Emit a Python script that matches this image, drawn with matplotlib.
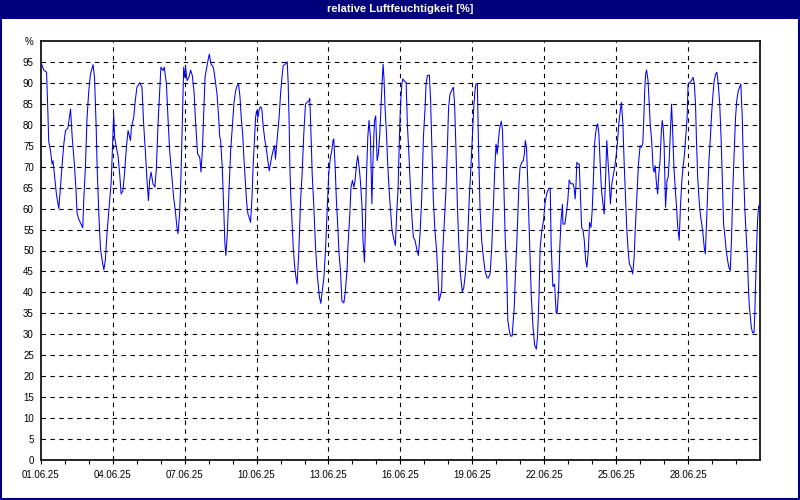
import matplotlib
matplotlib.use("Agg")
import matplotlib.pyplot as plt
from matplotlib.patches import Rectangle

# days since 01.06.25 00:00 and relative humidity [%]
days = [0.0, 0.03, 0.125, 0.24, 0.29, 0.33, 0.40, 0.47, 0.51, 0.57, 0.65, 0.75, 0.82, 0.89, 0.96,
        1.03, 1.13, 1.19, 1.24, 1.31, 1.40, 1.47, 1.51, 1.58, 1.68, 1.75, 1.79, 1.86, 1.93, 2.0,
        2.07, 2.18, 2.24, 2.31, 2.35, 2.42, 2.49, 2.56, 2.63, 2.69, 2.76, 2.86, 2.94, 3.0, 3.04,
        3.08, 3.15, 3.22, 3.29, 3.35, 3.43, 3.5, 3.57, 3.64, 3.74, 3.78, 3.875, 3.94, 4.01, 4.125,
        4.22, 4.29, 4.36, 4.43, 4.49, 4.54, 4.6, 4.68, 4.76, 4.82, 4.89, 4.96, 5.01, 5.1, 5.15,
        5.24, 5.31, 5.375, 5.47, 5.54, 5.61, 5.68, 5.72, 5.79, 5.85, 5.9, 5.96, 6.0, 6.04, 6.1,
        6.18, 6.25, 6.32, 6.39, 6.46, 6.54, 6.6, 6.64, 6.68, 6.74, 6.79, 6.85, 6.9, 6.97, 7.03,
        7.1, 7.17, 7.21, 7.28, 7.35, 7.42, 7.46, 7.5, 7.57, 7.64, 7.68, 7.72, 7.78, 7.85, 7.92,
        7.99, 8.06, 8.125, 8.19, 8.25, 8.31, 8.36, 8.43, 8.47, 8.53, 8.58, 8.64, 8.69, 8.75, 8.81,
        8.86, 8.92, 8.96, 9.0, 9.06, 9.11, 9.17, 9.22, 9.28, 9.35, 9.42, 9.47, 9.53, 9.58, 9.64,
        9.69, 9.75, 9.79, 9.83, 9.89, 9.94, 10.0, 10.06, 10.11, 10.19, 10.28, 10.32, 10.36, 10.39, 10.43,
        10.49, 10.53, 10.58, 10.64, 10.69, 10.76, 10.83, 10.9, 10.97, 11.04, 11.11, 11.18, 11.22, 11.28, 11.32,
        11.39, 11.46, 11.53, 11.62, 11.68, 11.81, 11.875, 11.94, 12.01, 12.08, 12.14, 12.19, 12.22, 12.28, 12.33,
        12.39, 12.44, 12.5, 12.56, 12.64, 12.7, 12.78, 12.81, 12.89, 12.94, 13.0, 13.06, 13.11, 13.17, 13.22,
        13.28, 13.33, 13.4, 13.44, 13.5, 13.54, 13.58, 13.64, 13.69, 13.75, 13.81, 13.86, 13.92, 13.97, 14.03,
        14.08, 14.14, 14.19, 14.24, 14.28, 14.32, 14.36, 14.42, 14.47, 14.54, 14.6, 14.65, 14.72, 14.79, 14.85,
        14.9, 14.96, 15.0, 15.06, 15.1, 15.15, 15.24, 15.29, 15.36, 15.43, 15.49, 15.54, 15.61, 15.68, 15.75,
        15.82, 15.89, 15.96, 16.03, 16.07, 16.125, 16.21, 16.26, 16.31, 16.375, 16.44, 16.51, 16.56, 16.61, 16.66,
        16.72, 16.77, 16.9, 16.96, 17.01, 17.07, 17.15, 17.21, 17.26, 17.32, 17.375, 17.43, 17.49, 17.58, 17.64,
        17.71, 17.79, 17.875, 17.94, 18.0, 18.06, 18.11, 18.15, 18.21, 18.25, 18.32, 18.39, 18.46, 18.53, 18.6,
        18.66, 18.74, 18.81, 18.875, 18.94, 18.99, 19.04, 19.1, 19.15, 19.21, 19.26, 19.32, 19.375, 19.43, 19.48,
        19.55, 19.6, 19.66, 19.75, 19.8, 19.86, 19.94, 19.99, 20.06, 20.125, 20.17, 20.21, 20.26, 20.31, 20.36,
        20.4, 20.43, 20.46, 20.53, 20.6, 20.67, 20.72, 20.78, 20.83, 20.9, 20.97, 21.03, 21.1, 21.18, 21.25,
        21.29, 21.36, 21.43, 21.5, 21.54, 21.6, 21.65, 21.7, 21.76, 21.78, 21.86, 21.9, 21.98, 22.04, 22.11,
        22.21, 22.26, 22.29, 22.32, 22.36, 22.42, 22.46, 22.5, 22.56, 22.62, 22.67, 22.73, 22.78, 22.84, 22.89,
        22.95, 23.0, 23.06, 23.1, 23.14, 23.18, 23.23, 23.28, 23.34, 23.39, 23.45, 23.5, 23.56, 23.61, 23.65,
        23.71, 23.76, 23.82, 23.89, 23.94, 24.0, 24.06, 24.11, 24.17, 24.22, 24.28, 24.33, 24.39, 24.44, 24.5,
        24.55, 24.62, 24.69, 24.75, 24.8, 24.86, 24.93, 25.0, 25.05, 25.11, 25.15, 25.19, 25.23, 25.27, 25.33,
        25.37, 25.42, 25.48, 25.54, 25.58, 25.63, 25.67, 25.73, 25.77, 25.83, 25.88, 25.92, 25.96, 26.0, 26.06,
        26.12, 26.17, 26.21, 26.27, 26.31, 26.35, 26.41, 26.46, 26.52, 26.57, 26.63, 26.68, 26.74, 26.79, 26.85,
        26.9, 26.96, 27.0, 27.07, 27.14, 27.21, 27.26, 27.31, 27.35, 27.4, 27.46, 27.51, 27.57, 27.62, 27.68,
        27.72, 27.76, 27.82, 27.87, 27.93, 27.98, 28.04, 28.09, 28.15, 28.2, 28.26, 28.32, 28.38, 28.43, 28.48,
        28.54, 28.59, 28.65, 28.7, 28.76, 28.81, 28.87, 28.92, 28.98, 29.03, 29.09, 29.15, 29.2, 29.26, 29.31,
        29.37, 29.42, 29.48, 29.51, 29.55, 29.6, 29.64, 29.69, 29.75, 29.78, 29.82, 29.86, 29.9, 29.94, 29.99]

humidity = [94.5, 94.5, 93, 92.5, 84, 76, 74, 70.6, 71.4, 68, 63.5, 60, 65, 70.6, 75.4,
            78.6, 79.2, 81.7, 83.7, 77, 70.6, 64.3, 59, 57.5, 56.3, 55.4, 61.9, 69.8, 81.7, 88,
            92, 94.3, 91.3, 79.4, 69.8, 58.7, 50.4, 47.6, 45.4, 47.6, 54, 61.1, 66.7, 76.2, 82.5,
            77, 74.6, 72.6, 68.3, 63.5, 64.3, 69, 74.6, 78.6, 76.2, 79.4, 81.7, 85.7, 88.9, 90,
            88.9, 80.2, 73.8, 66.7, 61.9, 66.7, 68.7, 65.9, 65.1, 69.5, 80.2, 88, 93.7, 92.9, 93.7,
            89.7, 81, 73.8, 67.5, 62.7, 59.5, 55.5, 54, 58.7, 68.3, 80.2, 93.7, 91.3, 93.7, 90.5,
            91.3, 93, 91.7, 88, 80.2, 73, 72.6, 71.8, 68.7, 73.8, 81.7, 91.3, 92.9, 95.2, 96.8,
            94.4, 94, 93.3, 90.5, 87.3, 81.7, 77.4, 76.2, 69.8, 57.9, 51.6, 48.8, 54, 64.3, 73.8,
            79.4, 85.3, 88, 89.3, 89.7, 86.5, 81.7, 77, 72.2, 66.7, 61.9, 58.7, 57.9, 56.7, 62.7,
            70.6, 77, 81.7, 83.3, 81.7, 83.7, 84.3, 83.7, 79.4, 76.2, 73.8, 71.4, 69, 70.6, 72.6,
            73.8, 75, 71.8, 74.6, 78.6, 81.7, 87.3, 91.3, 94, 94.4, 95, 89.7, 80.2, 69.8, 62.7,
            55.5, 50.8, 46.8, 43.7, 42, 49.3, 61.1, 68.3, 77.8, 84.9, 85.3, 85.7, 86.3, 76.2, 68.3,
            60.3, 50.8, 44.4, 39, 37.4, 43.7, 50, 58.7, 68.3, 72.2, 73.8, 76.2, 76.6, 69.8, 61.9,
            55.5, 49.3, 45.2, 38, 37.5, 40, 46, 50.8, 58.7, 65.1, 66.7, 65.1, 66.7, 70.6, 72.6,
            69.8, 66.7, 60.3, 52.4, 47.2, 55.5, 66.7, 77, 81, 77, 61.1, 72.2, 81, 82.1, 71.4,
            73, 77.8, 84.1, 90.5, 94.4, 90.5, 84.1, 77.8, 70.6, 63.5, 58.7, 54.8, 52.8, 51.2, 59.5,
            64.3, 77, 84.1, 89.7, 90.9, 90.5, 90, 80.2, 72.2, 63.5, 57.1, 53.2, 52.4, 50.4, 48.8,
            54, 62.7, 77, 84.1, 89.7, 91.7, 91.8, 85.7, 75.4, 61.9, 54.8, 50, 44.4, 38, 39,
            40.6, 50.1, 64.3, 74.6, 84.1, 87.3, 88.3, 88.9, 84.9, 73.8, 61.1, 52.4, 45.2, 40.2, 41,
            44.4, 50.8, 62.7, 69.8, 77, 84.1, 88, 89.7, 89.8, 77, 60.3, 52.4, 48.4, 45.2, 43.7,
            43.4, 44.4, 50.8, 60.3, 69.8, 75.4, 73, 77, 79.4, 80.8, 78.6, 64.3, 52.4, 45.4, 33.4,
            30.6, 29.6, 29.6, 36.6, 44.6, 52.5, 65.2, 69.8, 71, 71.4, 73, 76.2, 74.6, 66.7, 57.1,
            49.3, 44.4, 39, 31.8, 27.4, 26.5, 29.5, 39, 50.8, 54.8, 57.1, 61.1, 63.5, 64.7, 64.9,
            50.9, 41.4, 42, 35, 35.4, 40.6, 50.9, 57.2, 61, 56.3, 56.3, 57.9, 61.7, 66.8, 65.9,
            65.9, 64.3, 62.3, 65.1, 71, 70.6, 70.6, 64.3, 55.5, 54.8, 52.4, 47.6, 46, 50, 56.7,
            55.5, 59.5, 68.3, 75.4, 77.8, 79.4, 80.2, 77.8, 69.8, 64.3, 61.1, 58.7, 67.5, 76.2, 72.2,
            66.7, 61.1, 65.9, 68.3, 69.8, 72.6, 76.2, 80.2, 83.3, 85.3, 80.2, 71.4, 62.7, 55.5, 50,
            46.8, 46, 44.4, 48.4, 55.5, 62.7, 70.6, 75, 74.6, 75.4, 81, 88, 92.1, 93, 90.5,
            85.7, 80.2, 76.2, 69.8, 68.7, 70.2, 66.7, 63.5, 67.5, 71.4, 77.8, 81, 79.4, 75.4, 60.3,
            66.7, 67.5, 71.4, 79.4, 84.9, 79.4, 69.8, 65.1, 60.3, 55.5, 52.4, 60.3, 66.7, 69.8, 73,
            77, 81.7, 89.7, 90, 90.5, 91.3, 89.7, 84.9, 76.2, 67.5, 61.9, 58.7, 56.3, 54, 50.4,
            49.2, 55.5, 64.3, 71.4, 77, 82.5, 87.3, 90.5, 92.1, 92.5, 89.7, 84.9, 76.2, 66.7, 56.3,
            53.2, 50, 47.6, 46, 45.2, 52.4, 65.1, 73, 81.7, 85.7, 88, 88.9, 89.7, 81.7, 69.8,
            59.5, 54, 47.6, 42.2, 37.1, 34, 31.6, 30.4, 30.4, 34.3, 43, 51, 57.3, 60.5, 61]

tick_days = list(range(0, 30, 3))
tick_labels = ["01.06.25", "04.06.25", "07.06.25", "10.06.25", "13.06.25",
               "16.06.25", "19.06.25", "22.06.25", "25.06.25", "28.06.25"]
y_ticks = list(range(0, 105, 5))
y_labels = [str(v) for v in range(0, 100, 5)] + ["%"]

plt.rcParams['font.family'] = ['Liberation Sans', 'DejaVu Sans']

fig = plt.figure(figsize=(8, 5), dpi=100)
fig.patch.set_facecolor('white')

# window frame and title bar
navy = '#00007b'
fig.patches.append(Rectangle((0, 0.962), 1, 0.038, transform=fig.transFigure,
                             facecolor=navy, edgecolor='none', zorder=0))
fig.patches.append(Rectangle((0.0015, 0.002), 0.997, 0.99, transform=fig.transFigure,
                             facecolor='none', edgecolor=navy, linewidth=1.5, zorder=0))
fig.text(0.5, 0.981, "relative Luftfeuchtigkeit [%]", color='white', fontsize=8,
         fontweight='bold', ha='center', va='center')

ax = fig.add_axes([0.051, 0.0795, 0.899, 0.839])
ax.plot(days, humidity, color='#0000ff', linewidth=0.75, zorder=3)

ax.set_xlim(0, 30)
ax.set_ylim(0, 100)
ax.set_xticks(tick_days)
ax.set_xticklabels(tick_labels)
ax.set_xticks(range(0, 30), minor=True)
ax.set_yticks(y_ticks)
ax.set_yticklabels(y_labels)

ax.tick_params(axis='x', which='both', length=3, width=0.8, labelsize=7, pad=4)
ax.tick_params(axis='y', length=0, labelsize=7, pad=5)

for d in tick_days[1:]:
    ax.axvline(d, color='black', linewidth=0.8, linestyle=(0, (4, 4)), zorder=1)
for v in y_ticks[1:-1]:
    ax.axhline(v, color='black', linewidth=0.8, linestyle=(0, (4, 4)), zorder=1)

for s in ax.spines.values():
    s.set_linewidth(1.2)
    s.set_color('black')

plt.savefig('out.png', dpi=100)
